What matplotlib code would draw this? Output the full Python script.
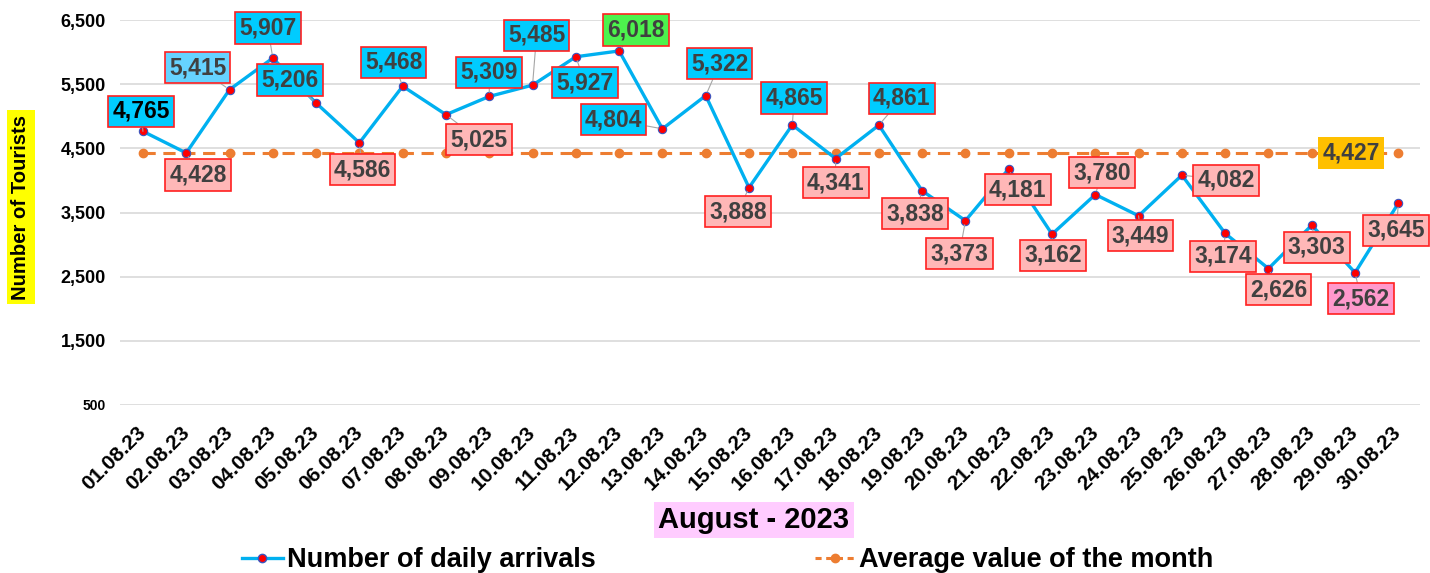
import matplotlib.pyplot as plt
from matplotlib.lines import Line2D

plt.rcParams['font.family'] = ['Liberation Sans', 'DejaVu Sans']
plt.rcParams['font.weight'] = 'bold'

# daily values
dates = ['01.08.23', '02.08.23', '03.08.23', '04.08.23', '05.08.23', '06.08.23',
         '07.08.23', '08.08.23', '09.08.23', '10.08.23', '11.08.23', '12.08.23',
         '13.08.23', '14.08.23', '15.08.23', '16.08.23', '17.08.23', '18.08.23',
         '19.08.23', '20.08.23', '21.08.23', '22.08.23', '23.08.23', '24.08.23',
         '25.08.23', '26.08.23', '27.08.23', '28.08.23', '29.08.23', '30.08.23']
arrivals = [4765, 4428, 5415, 5907, 5206, 4586, 5468, 5025, 5309, 5485,
            5927, 6018, 4804, 5322, 3888, 4865, 4341, 4861, 3838, 3373,
            4181, 3162, 3780, 3449, 4082, 3174, 2626, 3303, 2562, 3645]
month_avg = 4427
y_ticks = [500, 1500, 2500, 3500, 4500, 5500, 6500]

# label box placement (pixel offsets from the point) and fill colours
BLUE, PINK = '#00CCFF', '#FFB7B7'
label_offsets = [(-2, 20), (12, -22), (-32, 22), (-5, 30), (-26, 23), (3, -27),
                 (-9, 24), (33, -25), (0, 24), (4, 50), (9, -26), (17, 21),
                 (-49, 9), (14, 32), (-11, -24), (2, 27), (0, -24), (23, 27),
                 (-7, -23), (-6, -33), (9, -21), (1, -21), (7, 22), (2, -20),
                 (44, -5), (-2, -23), (10, -21), (5, -22), (6, -26), (-2, -27)]
label_colors = [BLUE, PINK, '#66D3FF', BLUE, BLUE, PINK, BLUE, PINK, BLUE, BLUE,
                BLUE, '#4DF24D', BLUE, BLUE, PINK, BLUE, PINK, BLUE, PINK, PINK,
                PINK, PINK, PINK, PINK, PINK, PINK, PINK, PINK, '#FF99CC', PINK]

fig = plt.figure(figsize=(14.3, 5.73), dpi=100)
ax = fig.add_axes([120 / 1430, 1 - 405 / 573, 1300 / 1430, 385 / 573])

x = list(range(len(dates)))
ax.plot(x, arrivals, color='#00B0F0', lw=2.4, marker='o', ms=6,
        mfc='#FF0000', mec='#3A55C0', mew=0.8, zorder=3)
ax.plot(x, [month_avg] * len(x), color='#ED7D31', lw=2.2, ls=(0, (4, 2.5)),
        marker='o', ms=6, mfc='#ED7D31', mec='#ED7D31', zorder=2)

for i, v in enumerate(arrivals):
    ax.annotate(f'{v:,}', (i, v), xytext=label_offsets[i], textcoords='offset pixels',
                ha='center', va='center', fontsize=16.5, fontweight='bold',
                color='black' if i == 0 else '#404040', zorder=5,
                bbox=dict(boxstyle='square,pad=0.18', fc=label_colors[i],
                          ec='#FF2020', lw=1.2),
                arrowprops=dict(arrowstyle='-', color='#A6A6A6', lw=0.8,
                                shrinkA=0, shrinkB=3))

ax.annotate(f'{month_avg:,}', (28, month_avg), xytext=(-4, 0), textcoords='offset pixels',
            ha='center', va='center', fontsize=16.5, fontweight='bold', color='#404040',
            zorder=5, bbox=dict(boxstyle='square,pad=0.18', fc='#FFC000', ec='none'))

ax.set_xlim(-0.53, 29.5)
ax.set_ylim(500, 6500)
ax.set_yticks(y_ticks)
ax.set_yticklabels([f'{t:,}' for t in y_ticks], fontsize=13, fontweight='bold')
ax.get_yticklabels()[0].set_fontsize(10)
ax.set_xticks(x)
ax.set_xticklabels(dates, rotation=45, ha='right', va='center', rotation_mode='anchor',
                   fontsize=15, fontweight='bold')
ax.tick_params(axis='both', length=0)
ax.tick_params(axis='y', pad=10)
ax.tick_params(axis='x', pad=18)
ax.grid(axis='y', color='#D9D9D9', lw=1.2)
ax.set_axisbelow(True)
for s in ax.spines.values():
    s.set_visible(False)

fig.text(21 / 1430, 1 - 207 / 573, 'Number of Tourists', rotation=90, ha='center',
         va='center', fontsize=14.6, fontweight='bold',
         bbox=dict(boxstyle='square,pad=0.2', fc='#FFFF00', ec='none'))
fig.text(754 / 1430, 1 - 520 / 573, 'August - 2023', ha='center', va='center',
         fontsize=21, fontweight='bold',
         bbox=dict(boxstyle='square,pad=0.15', fc='#FFCCFF', ec='none'))

handles = [Line2D([0], [0], color='#00B0F0', lw=2.4, marker='o', ms=6,
                  mfc='#FF0000', mec='#3A55C0'),
           Line2D([0], [0], color='#ED7D31', lw=2.2, ls=(0, (2, 1.5)), marker='o',
                  ms=6, mfc='#ED7D31', mec='#ED7D31')]
fig.legend(handles, ['Number of daily arrivals', 'Average value of the month'],
           loc='center', bbox_to_anchor=(0.509, 1 - 560 / 573), ncol=2, frameon=False,
           prop=dict(size=19.5, weight='bold'), handlelength=1.5, handletextpad=0.15,
           columnspacing=8.1)

fig.savefig('out.png', dpi=100)
